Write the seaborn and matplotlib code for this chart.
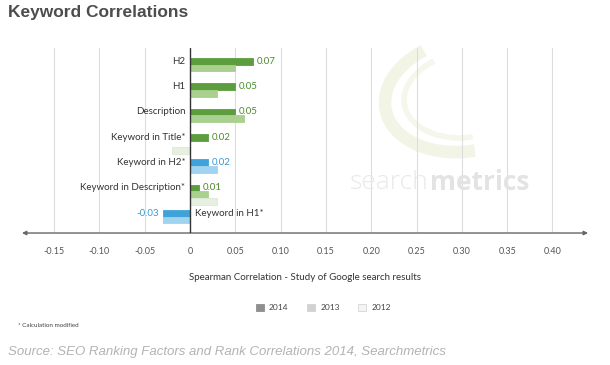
import numpy as np
import pandas as pd
import matplotlib.pyplot as plt
import seaborn as sns
from matplotlib.patches import Rectangle, Arc

# données
factors = ['H2', 'H1', 'Description', 'Keyword in Title*', 'Keyword in H2*',
           'Keyword in Description*', 'Keyword in H1*']
years = ['2014', '2013', '2012']
v2014 = [0.07, 0.05, 0.05, 0.02, 0.02, 0.01, -0.03]
v2013 = [0.05, 0.03, 0.06, np.nan, 0.03, 0.02, -0.03]
v2012 = [np.nan, np.nan, np.nan, -0.02, np.nan, 0.03, np.nan]
group = ['green', 'green', 'green', 'green', 'blue', 'green', 'blue']
xticks = [-0.15, -0.10, -0.05, 0, 0.05, 0.10, 0.15, 0.20, 0.25, 0.30, 0.35, 0.40]

df = pd.DataFrame({'factor': factors * 3,
                   'year': [y for y in years for _ in factors],
                   'value': v2014 + v2013 + v2012})

shades = {'green': ['#5c9e3d', '#a9d08f', '#e6f0de'],
          'blue': ['#3fa3da', '#a0d3ef', '#e0f0f9']}
text_col = {'green': '#4a8a2c', 'blue': '#3a98d0'}

sns.set_style('white')
plt.rcParams['font.family'] = ['Lato', 'DejaVu Sans']

fig = plt.figure(figsize=(6.1, 3.65), dpi=100)
ax = fig.add_axes([0.036, 0.3616, 0.928, 0.507])
ax.set_facecolor('none')

# filigrane searchmetrics
for w, sx, sy, c in [(9, 0.26, 0.32, '#f2f5e6'), (4, 0.20, 0.24, '#f5f7ec')]:
    fig.add_artist(Arc((0.765, 0.74), sx, sy, angle=-20, theta1=140, theta2=295,
                       transform=fig.transFigure, color=c, lw=w, zorder=0))
fig.text(0.574, 0.50, 'search', fontsize=19, color='#e9e9e9', ha='left', va='center',
         family='Open Sans', fontweight='light')
fig.text(0.705, 0.50, 'metrics', fontsize=19, color='#e3e3e3', ha='left', va='center',
         family='Open Sans', fontweight='bold')

sns.barplot(data=df, y='factor', x='value', hue='year', orient='h', ax=ax,
            width=0.8, legend=False, zorder=3)

for k, cont in enumerate(ax.containers):
    for p in cont.patches:
        i = int(round(p.get_y() + p.get_height() / 2))
        c = shades[group[i]][k]
        p.set_facecolor(c)
        p.set_edgecolor('#dfe8d8' if k == 2 else c)
        p.set_linewidth(0.6)

# étiquettes des catégories et valeurs 2014
for i, (name, v) in enumerate(zip(factors, v2014)):
    y = i - 0.8 / 3
    if v >= 0:
        ax.text(-0.005, y, name, ha='right', va='center', fontsize=7, color='#333333')
        ax.text(v + 0.004, y, f'{v:.2f}', ha='left', va='center', fontsize=7,
                color=text_col[group[i]])
    else:
        ax.text(0.005, y, name, ha='left', va='center', fontsize=7, color='#333333')
        ax.text(v - 0.004, y, f'{v:.2f}', ha='right', va='center', fontsize=7,
                color=text_col[group[i]])

ax.set_xlim(-0.1855, 0.4393)
ax.set_ylim(6.51, -0.79)
for t in xticks:
    ax.axvline(t, color='#333333' if t == 0 else '#dddddd', lw=1 if t == 0 else 0.8,
               zorder=1 if t else 4)
ax.annotate('', xy=(1, 0), xytext=(0, 0), xycoords='axes fraction',
            arrowprops=dict(arrowstyle='<|-|>', color='#666666', lw=1,
                            mutation_scale=6, shrinkA=0, shrinkB=0))
for s in ax.spines.values():
    s.set_visible(False)
ax.set_yticks([])
ax.set_ylabel('')
ax.set_xticks(xticks)
ax.set_xticklabels(['0' if t == 0 else f'{t:.2f}' for t in xticks],
                   fontsize=6.5, color='#555555')
ax.tick_params(axis='x', length=0, pad=10)
ax.set_xlabel('Spearman Correlation - Study of Google search results', fontsize=7,
              color='#333333', labelpad=12)

handles = [Rectangle((0, 0), 1, 1, facecolor=c, edgecolor=e, lw=0.6)
           for c, e in [('#8f8f8f', '#8f8f8f'), ('#d2d2d2', '#d2d2d2'), ('#f4f4f4', '#d6d6d6')]]
fig.legend(handles, years, loc='center', bbox_to_anchor=(0.53, 0.158), ncol=3,
           frameon=False, fontsize=6, handlelength=1.0, handleheight=1.0,
           columnspacing=2.2, handletextpad=0.6, labelcolor='#444444')

fig.text(0.03, 0.107, '* Calculation modified', fontsize=4.5, color='#444444',
         va='center')
fig.text(0.013, 0.966, 'Keyword Correlations', fontsize=12.5, fontweight='bold',
         color='#4d4d4d', family='Liberation Sans', va='center')
fig.text(0.013, 0.035, 'Source: SEO Ranking Factors and Rank Correlations 2014, Searchmetrics',
         fontsize=9.5, style='italic', color='#b3b3b3', family='Liberation Sans',
         va='center')

fig.savefig('out.png', dpi=100)
